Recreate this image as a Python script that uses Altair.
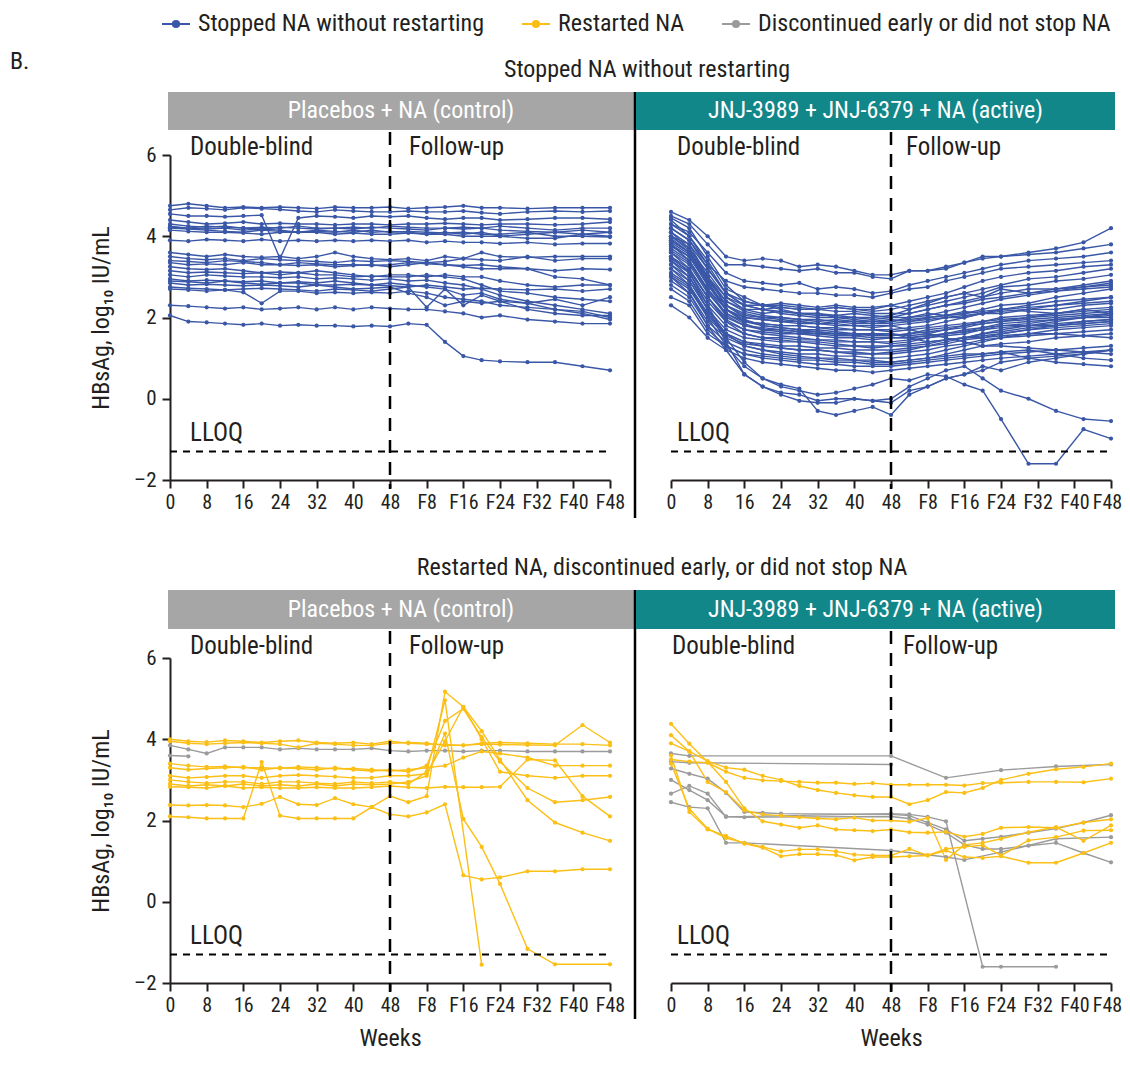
import altair as alt
import pandas as pd

# ---------------- data ----------------
WEEKS = [0, 4, 8, 12, 16, 20, 24, 28, 32, 36, 40, 44, 48,
         52, 56, 60, 64, 68, 72, 78, 84, 90, 96]
X_TICKS = [0, 8, 16, 24, 32, 40, 48, 56, 64, 72, 80, 88, 96]
Y_TICKS = [-2, 0, 2, 4, 6]
LLOQ = -1.3
GROUPS = ["Stopped NA without restarting", "Restarted NA",
          "Discontinued early or did not stop NA"]
COLORS = ["#3a57a7", "#fbbf15", "#9b9b9b"]
ARMS = ["Placebos + NA (control)", "JNJ-3989 + JNJ-6379 + NA (active)"]
ARM_COLORS = ["#a6a6a6", "#12878a"]
SECTIONS = ["Stopped NA without restarting",
            "Restarted NA, discontinued early, or did not stop NA"]

N = None

# control arm, stopped NA without restarting
ctrl_stopped = [
    [4.75, 4.8, 4.75, 4.7, 4.72, 4.7, 4.72, 4.7, 4.68, 4.72, 4.7, 4.7, 4.72, 4.68, 4.7, 4.72, 4.75, 4.7, 4.7, 4.68, 4.7, 4.7, 4.7],
    [4.65, 4.7, 4.68, 4.65, 4.7, 4.68, 4.66, 4.62, 4.6, 4.65, 4.62, 4.6, 4.6, 4.62, 4.6, 4.6, 4.62, 4.58, 4.55, 4.6, 4.62, 4.6, 4.62],
    [4.55, 4.5, 4.5, 4.48, 4.5, 4.52, 3.45, 4.45, 4.5, 4.48, 4.45, 4.5, 4.48, 4.5, 4.45, 4.42, 4.45, 4.45, 4.4, 4.42, 4.45, 4.45, 4.42],
    [4.4, 4.35, 4.3, 4.32, 4.35, 4.3, 4.32, 4.3, 4.3, 4.28, 4.3, 4.3, 4.28, 4.3, 4.3, 4.32, 4.3, 4.28, 4.3, 4.3, 4.28, 4.3, 4.35],
    [4.3, 4.25, 4.22, 4.25, 4.2, 4.22, 4.2, 4.25, 4.2, 4.2, 4.22, 4.2, 4.25, 4.22, 4.2, 4.2, 4.18, 4.2, 4.15, 4.12, 4.1, 4.05, 4.1],
    [4.25, 4.2, 4.18, 4.2, 4.15, 4.18, 4.15, 4.1, 4.15, 4.12, 4.1, 4.15, 4.1, 4.12, 4.1, 4.08, 4.1, 4.05, 4.05, 4.1, 4.0, 4.0, 3.98],
    [4.2, 4.18, 4.15, 4.12, 4.1, 4.15, 4.12, 4.1, 4.12, 4.1, 4.15, 4.1, 4.12, 4.1, 4.05, 4.05, 4.0, 4.0, 4.0, 3.95, 3.95, 4.05, 4.0],
    [4.15, 4.12, 4.1, 4.1, 4.08, 4.05, 4.1, 4.1, 4.1, 4.05, 4.08, 4.05, 4.05, 4.08, 4.05, 4.1, 4.05, 4.1, 4.0, 4.05, 4.1, 4.15, 4.1],
    [4.22, 4.2, 4.25, 4.22, 4.2, 4.18, 4.22, 4.2, 4.18, 4.2, 4.18, 4.22, 4.2, 4.18, 4.15, 4.2, 4.22, 4.2, 4.25, 4.2, 4.15, 4.2, 4.2],
    [3.9, 3.88, 3.92, 3.9, 3.88, 3.92, 3.88, 3.9, 3.88, 3.9, 3.88, 3.9, 3.88, 3.9, 3.85, 3.88, 3.85, 3.85, 3.82, 3.85, 3.8, 3.82, 3.82],
    [3.6, 3.55, 3.5, 3.55, 3.5, 3.48, 3.5, 3.45, 3.5, 3.6, 3.5, 3.45, 3.42, 3.45, 3.4, 3.5, 3.45, 3.6, 3.5, 3.48, 3.5, 3.5, 3.5],
    [3.5, 3.45, 3.42, 3.45, 3.4, 3.45, 3.42, 3.4, 3.38, 3.35, 3.4, 3.38, 3.4, 3.38, 3.35, 3.3, 3.25, 3.2, 3.2, 3.2, 3.15, 3.2, 3.18],
    [3.4, 3.38, 3.35, 3.4, 3.38, 3.35, 3.3, 3.35, 3.32, 3.3, 3.3, 3.28, 3.3, 3.35, 3.32, 3.3, 3.28, 3.3, 3.25, 3.2, 3.0, 2.95, 2.8],
    [3.35, 3.3, 3.32, 3.3, 3.35, 3.3, 3.3, 3.28, 3.3, 3.25, 3.28, 3.3, 3.25, 3.3, 3.35, 3.38, 3.45, 3.42, 3.4, 3.5, 3.4, 3.45, 3.45],
    [3.25, 3.2, 3.18, 3.2, 3.15, 3.1, 3.12, 3.1, 3.15, 3.1, 3.05, 3.0, 3.05, 3.05, 3.0, 3.05, 3.0, 3.0, 2.9, 2.8, 2.75, 2.8, 2.8],
    [3.15, 3.1, 3.12, 3.1, 3.08, 3.1, 3.05, 3.1, 3.05, 3.05, 3.0, 3.02, 3.0, 3.0, 3.05, 3.0, 2.95, 2.8, 2.65, 2.6, 2.5, 2.45, 2.4],
    [3.05, 3.0, 3.05, 3.02, 3.0, 3.0, 2.98, 3.0, 2.95, 2.98, 2.95, 2.92, 2.95, 2.9, 2.92, 2.85, 2.8, 2.7, 2.55, 2.4, 2.3, 2.2, 2.1],
    [2.95, 2.9, 2.92, 2.9, 2.88, 2.9, 2.85, 2.88, 2.85, 2.9, 2.85, 2.8, 2.85, 2.8, 2.75, 2.7, 2.55, 2.6, 2.45, 2.35, 2.2, 2.15, 2.0],
    [2.9, 2.88, 2.85, 2.9, 2.85, 2.82, 2.85, 2.85, 2.8, 2.8, 2.82, 2.8, 2.78, 2.75, 2.8, 2.75, 2.7, 2.72, 2.7, 2.68, 2.7, 2.65, 2.7],
    [2.85, 2.8, 2.82, 2.8, 2.78, 2.8, 2.78, 2.75, 2.8, 2.75, 2.7, 2.72, 2.75, 2.6, 2.5, 2.3, 2.4, 2.35, 2.4, 2.2, 2.1, 2.05, 2.05],
    [2.75, 2.72, 2.7, 2.68, 2.7, 2.72, 2.7, 2.68, 2.65, 2.7, 2.68, 2.65, 2.7, 2.75, 2.25, 2.7, 2.3, 2.55, 2.4, 2.35, 2.45, 2.3, 2.5],
    [2.7, 2.68, 2.65, 2.68, 2.62, 2.35, 2.65, 2.65, 2.6, 2.62, 2.6, 2.62, 2.6, 2.65, 2.6, 2.5, 2.45, 2.4, 2.3, 2.25, 2.2, 2.1, 1.95],
    [2.3, 2.28, 2.25, 2.22, 2.25, 2.2, 2.22, 2.25, 2.2, 2.25, 2.2, 2.25, 2.22, 2.2, 2.2, 2.15, 2.1, 2.0, 2.05, 1.95, 1.9, 1.85, 1.85],
    [2.05, 1.9, 1.88, 1.85, 1.82, 1.85, 1.8, 1.82, 1.8, 1.8, 1.78, 1.8, 1.78, 1.85, 1.82, 1.4, 1.05, 0.95, 0.92, 0.9, 0.9, 0.8, 0.7],
]

# active arm, stopped NA without restarting
act_stopped = [
    [4.6, 4.4, 4.0, 3.5, 3.4, 3.45, 3.4, 3.25, 3.3, 3.25, 3.15, 3.05, 3.05, 3.15, 3.15, 3.2, 3.35, 3.45, 3.5, 3.6, 3.7, 3.85, 4.2],
    [4.5, 4.3, 3.8, 3.3, 3.3, 3.25, 3.2, 3.15, 3.2, 3.1, 3.1, 3.0, 2.95, 3.15, 3.15, 3.25, 3.35, 3.5, 3.5, 3.55, 3.6, 3.7, 3.8],
    [4.3, 4.1, 3.6, 3.1, 2.9, 2.85, 2.8, 2.85, 2.7, 2.75, 2.7, 2.6, 2.65, 2.8, 2.9, 3.0, 3.1, 3.2, 3.3, 3.4, 3.45, 3.5, 3.6],
    [4.2, 3.9, 3.3, 2.9, 2.75, 2.7, 2.65, 2.6, 2.6, 2.55, 2.55, 2.5, 2.6, 2.7, 2.75, 2.9, 3.0, 3.1, 3.2, 3.25, 3.3, 3.35, 3.4],
    [4.0, 3.8, 3.2, 2.6, 2.4, 2.3, 2.3, 2.25, 2.2, 2.25, 2.2, 2.15, 2.2, 2.3, 2.4, 2.5, 2.6, 2.7, 2.8, 2.95, 3.0, 3.1, 3.2],
    [4.1, 3.7, 3.1, 2.5, 2.2, 2.1, 2.15, 2.1, 2.05, 2.05, 2.0, 2.0, 2.05, 2.2, 2.3, 2.4, 2.5, 2.6, 2.75, 2.8, 2.9, 2.95, 3.05],
    [3.9, 3.6, 2.9, 2.4, 2.2, 2.2, 2.25, 2.2, 2.2, 2.25, 2.2, 2.2, 2.3, 2.2, 2.35, 2.5, 2.6, 2.5, 2.7, 2.6, 2.7, 2.8, 2.9],
    [3.8, 3.5, 2.8, 2.3, 2.1, 2.0, 2.0, 1.95, 1.9, 1.95, 1.9, 1.9, 1.9, 1.95, 2.0, 2.05, 2.1, 2.2, 2.3, 2.35, 2.5, 2.6, 2.7],
    [3.7, 3.4, 2.7, 2.2, 2.0, 1.95, 1.9, 1.85, 1.85, 1.8, 1.8, 1.75, 1.8, 1.85, 1.9, 2.0, 2.0, 2.1, 2.15, 2.2, 2.3, 2.4, 2.5],
    [4.2, 3.9, 3.2, 2.6, 2.3, 2.2, 2.1, 2.05, 2.0, 2.0, 1.95, 1.9, 1.95, 1.9, 1.95, 2.0, 2.05, 2.1, 2.1, 2.2, 2.2, 2.3, 2.35],
    [3.6, 3.3, 2.6, 2.1, 1.9, 1.85, 1.8, 1.8, 1.75, 1.7, 1.7, 1.7, 1.65, 1.7, 1.75, 1.8, 1.85, 1.9, 2.0, 2.05, 2.1, 2.15, 2.2],
    [3.5, 3.2, 2.5, 2.0, 1.8, 1.7, 1.7, 1.65, 1.6, 1.6, 1.55, 1.6, 1.55, 1.6, 1.7, 1.75, 1.8, 1.9, 1.95, 2.0, 2.05, 2.1, 2.15],
    [4.4, 4.0, 3.3, 2.6, 2.3, 2.2, 2.15, 2.1, 2.1, 2.05, 2.1, 2.05, 2.0, 2.0, 2.1, 2.05, 2.15, 2.1, 2.2, 2.15, 2.1, 2.2, 2.1],
    [3.4, 3.1, 2.4, 1.9, 1.7, 1.65, 1.6, 1.6, 1.55, 1.5, 1.5, 1.45, 1.5, 1.5, 1.55, 1.6, 1.7, 1.75, 1.85, 1.9, 1.95, 2.0, 2.05],
    [3.3, 3.0, 2.3, 1.8, 1.6, 1.5, 1.5, 1.45, 1.45, 1.4, 1.4, 1.4, 1.35, 1.4, 1.5, 1.55, 1.6, 1.7, 1.8, 1.85, 1.95, 2.0, 2.0],
    [3.95, 3.6, 2.9, 2.2, 1.9, 1.8, 1.75, 1.7, 1.7, 1.65, 1.6, 1.6, 1.6, 1.55, 1.6, 1.7, 1.8, 1.85, 1.9, 2.0, 2.1, 2.2, 2.25],
    [3.2, 2.9, 2.2, 1.7, 1.5, 1.45, 1.4, 1.4, 1.35, 1.3, 1.3, 1.25, 1.3, 1.3, 1.35, 1.45, 1.5, 1.6, 1.65, 1.75, 1.8, 1.85, 1.9],
    [3.1, 2.8, 2.1, 1.6, 1.4, 1.35, 1.3, 1.3, 1.25, 1.25, 1.2, 1.2, 1.2, 1.25, 1.3, 1.35, 1.45, 1.5, 1.6, 1.7, 1.75, 1.8, 1.85],
    [3.0, 2.7, 2.0, 1.55, 1.35, 1.3, 1.25, 1.2, 1.2, 1.15, 1.1, 1.1, 1.15, 1.2, 1.3, 1.4, 1.5, 1.6, 1.7, 1.8, 1.9, 2.0, 2.1],
    [4.0, 3.7, 3.0, 2.3, 2.0, 1.95, 1.9, 1.9, 1.85, 1.9, 1.85, 1.85, 1.85, 1.9, 2.0, 2.05, 2.1, 2.15, 2.2, 2.25, 2.3, 2.35, 2.4],
    [3.8, 3.4, 2.7, 2.1, 1.85, 1.7, 1.65, 1.6, 1.6, 1.55, 1.55, 1.5, 1.5, 1.5, 1.4, 1.45, 1.5, 1.55, 1.6, 1.7, 1.8, 1.9, 1.95],
    [2.9, 2.6, 1.9, 1.5, 1.3, 1.2, 1.15, 1.1, 1.1, 1.05, 1.05, 1.0, 1.0, 1.05, 1.1, 1.2, 1.3, 1.4, 1.5, 1.6, 1.7, 1.75, 1.8],
    [2.8, 2.5, 1.8, 1.4, 1.2, 1.1, 1.05, 1.0, 1.0, 0.95, 0.95, 0.9, 0.9, 0.95, 1.0, 1.1, 1.2, 1.3, 1.35, 1.4, 1.5, 1.55, 1.6],
    [3.6, 3.2, 2.5, 1.9, 1.6, 1.5, 1.45, 1.4, 1.4, 1.35, 1.3, 1.3, 1.3, 1.35, 1.4, 1.45, 1.5, 1.5, 1.55, 1.6, 1.6, 1.55, 1.5],
    [2.5, 2.3, 1.6, 1.3, 1.1, 1.0, 0.95, 0.9, 0.85, 0.85, 0.8, 0.8, 0.8, 0.85, 0.9, 0.95, 1.0, 1.05, 1.1, 1.15, 1.2, 1.25, 1.3],
    [3.3, 2.9, 2.2, 1.6, 1.3, 1.2, 1.1, 1.05, 1.0, 1.0, 0.95, 0.95, 0.9, 0.95, 1.0, 1.05, 1.1, 1.1, 1.15, 1.2, 1.1, 1.0, 0.95],
    [2.3, 2.0, 1.5, 1.2, 1.0, 0.9, 0.85, 0.8, 0.75, 0.7, 0.7, 0.65, 0.7, 0.75, 0.8, 0.85, 0.9, 0.95, 1.0, 1.05, 1.1, 1.15, 1.2],
    [3.4, 3.0, 2.2, 1.4, 0.6, 0.3, 0.15, 0.1, -0.05, 0.0, 0.0, -0.05, -0.1, 0.2, 0.3, 0.5, 0.6, 0.8, 0.7, 0.9, 1.0, 1.1, 1.2],
    [3.5, 3.1, 2.3, 1.5, 0.9, 0.5, 0.3, 0.2, 0.1, 0.15, 0.25, 0.35, 0.5, 0.45, 0.6, 0.55, 0.35, 0.2, -0.5, -1.6, -1.6, -0.75, -0.98],
    [3.2, 2.8, 2.0, 1.3, 0.8, 0.5, 0.35, 0.25, -0.3, -0.4, -0.3, -0.2, -0.4, 0.1, 0.3, 0.5, 0.6, 0.7, 0.9, 1.0, 1.05, 1.1, 1.2],
    [3.0, 2.6, 1.8, 1.2, 0.6, 0.3, 0.1, -0.05, -0.1, -0.1, 0.0, -0.05, 0.0, 0.3, 0.5, 0.7, 0.8, 0.5, 0.2, 0.0, -0.3, -0.5, -0.55],
    [4.3, 4.0, 3.4, 2.7, 2.5, 2.3, 2.2, 2.1, 2.1, 2.0, 2.0, 1.95, 2.0, 2.1, 2.2, 2.3, 2.4, 2.5, 2.6, 2.7, 2.7, 2.75, 2.8],
    [3.75, 3.5, 2.8, 2.2, 1.95, 1.8, 1.75, 1.7, 1.65, 1.6, 1.6, 1.55, 1.55, 1.6, 1.65, 1.7, 1.75, 1.85, 1.9, 1.95, 2.0, 2.05, 2.1],
    [3.85, 3.55, 2.85, 2.2, 1.9, 1.85, 1.8, 1.8, 1.75, 1.75, 1.7, 1.7, 1.7, 1.75, 1.8, 1.9, 2.0, 2.1, 2.2, 2.3, 2.4, 2.45, 2.5],
    [4.1, 3.8, 3.0, 2.4, 2.15, 2.05, 2.0, 1.95, 1.95, 1.9, 1.9, 1.85, 1.9, 2.0, 2.05, 2.15, 2.25, 2.35, 2.45, 2.55, 2.65, 2.75, 2.85],
    [3.45, 3.15, 2.5, 1.95, 1.7, 1.6, 1.55, 1.5, 1.45, 1.45, 1.4, 1.4, 1.4, 1.45, 1.5, 1.6, 1.65, 1.75, 1.8, 1.8, 1.85, 1.9, 1.95],
    [2.7, 2.4, 1.7, 1.3, 1.1, 1.05, 1.0, 0.95, 0.95, 0.9, 0.9, 0.85, 0.85, 0.9, 0.95, 1.0, 1.05, 1.1, 1.15, 1.0, 0.9, 0.85, 0.8],
    [4.45, 4.2, 3.5, 2.8, 2.4, 2.3, 2.25, 2.2, 2.2, 2.15, 2.15, 2.1, 2.1, 2.1, 2.2, 2.3, 2.35, 2.45, 2.5, 2.6, 2.65, 2.7, 2.75],
    [3.65, 3.35, 2.65, 2.05, 1.8, 1.75, 1.7, 1.65, 1.65, 1.6, 1.6, 1.6, 1.6, 1.5, 1.55, 1.6, 1.65, 1.7, 1.75, 1.8, 1.8, 1.85, 1.9],
    [3.05, 2.75, 2.05, 1.6, 1.4, 1.3, 1.25, 1.2, 1.2, 1.15, 1.15, 1.1, 1.1, 1.15, 1.2, 1.3, 1.35, 1.45, 1.5, 1.55, 1.6, 1.65, 1.7],
    [3.9, 3.6, 3.0, 2.5, 2.3, 2.3, 2.35, 2.3, 2.25, 2.3, 2.25, 2.25, 2.3, 2.4, 2.5, 2.6, 2.75, 2.9, 3.0, 3.1, 3.15, 3.25, 3.3],
    [4.0, 3.65, 2.95, 2.3, 2.05, 2.0, 1.95, 1.9, 1.85, 1.85, 1.8, 1.8, 1.8, 1.7, 1.6, 1.5, 1.4, 1.3, 1.3, 1.25, 1.2, 1.15, 1.1],
]

# control arm, restarted NA
ctrl_restarted = [
    [4.0, 3.95, 3.93, 3.97, 3.95, 3.92, 3.95, 3.97, 3.92, 3.9, 3.92, 3.88, 3.95, 3.9, 3.88, 3.87, 3.85, 3.88, 3.87, 3.86, 3.85, 4.35, 3.92],
    [3.95, 3.9, 3.88, 3.9, 3.92, 3.9, 3.88, 3.8, 3.9, 3.88, 3.85, 3.85, 3.9, 3.92, 3.9, 3.85, 3.85, 3.9, 3.92, 3.9, 3.88, 3.88, 3.85],
    [3.4, 3.35, 3.32, 3.33, 3.3, 3.3, 3.28, 3.32, 3.3, 3.27, 3.28, 3.25, 3.22, 3.25, 3.3, 3.35, 3.55, 3.7, 3.65, 3.55, 3.35, 3.35, 3.35],
    [3.3, 3.25, 3.28, 3.3, 3.32, 3.25, 3.3, 3.28, 3.25, 3.3, 3.25, 3.22, 3.25, 3.2, 3.35, 4.45, 4.75, 4.05, 3.45, 2.8, 2.45, 2.5, 2.58],
    [3.1, 3.05, 3.07, 3.1, 3.1, 3.05, 3.1, 3.12, 3.1, 3.08, 3.05, 3.05, 3.1, 3.1, 3.15, 3.95, 4.8, 4.0, 3.2, 3.1, 3.05, 3.1, 3.1],
    [3.0, 2.95, 2.92, 2.95, 2.95, 2.9, 2.95, 2.95, 2.92, 2.9, 2.95, 2.92, 2.95, 2.9, 3.2, 4.96, N, -1.55, N, N, N, N, N],
    [2.9, 2.85, 2.88, 2.85, 2.9, 2.85, 2.88, 2.85, 2.9, 2.85, 2.9, 2.88, 2.9, 2.95, 3.1, 4.14, 2.04, 1.35, 0.44, -1.16, -1.54, N, -1.54],
    [2.83, 2.82, 2.8, 2.85, 2.8, 2.82, 2.8, 2.8, 2.82, 2.8, 2.8, 2.82, 2.85, 2.82, 2.8, 2.83, 2.82, 2.82, 2.83, 3.5, 3.48, 2.6, 2.1],
    [2.38, 2.37, 2.38, 2.37, 2.33, 2.41, 2.58, 2.4, 2.38, 2.55, 2.4, 2.33, 2.6, 2.45, 2.6, 5.17, 4.8, 4.2, 3.5, 2.5, 1.95, 1.7, 1.5],
    [2.1, 2.08, 2.05, 2.05, 2.05, 3.44, 2.12, 2.05, 2.05, 2.05, 2.05, 2.33, 2.15, 2.1, 2.2, 2.4, 0.65, 0.55, 0.6, 0.75, 0.75, 0.8, 0.8],
]

# control arm, discontinued early or did not stop NA
ctrl_other = [
    [3.85, 3.75, 3.65, 3.8, 3.8, 3.8, 3.75, 3.78, 3.75, 3.75, 3.75, 3.78, 3.72, 3.7, 3.72, 3.72, 3.7, 3.72, 3.72, 3.7, 3.7, 3.7, 3.7],
    [3.6, 3.58, N, N, N, N, N, N, N, N, N, N, N, N, N, N, N, N, N, N, N, N, N],
]

# active arm, restarted NA
act_restarted = [
    [3.5, 3.45, 3.42, 3.2, 3.05, 2.99, 2.97, 2.95, 2.93, 2.93, 2.9, 2.92, 2.88, 2.88, 2.88, 2.88, 2.86, 2.92, 2.93, 2.95, 2.95, 2.94, 3.03],
    [3.9, 3.7, 3.46, 3.3, 3.25, 3.1, 3.0, 2.85, 2.75, 2.68, 2.62, 2.58, 2.58, 2.4, 2.5, 2.7, 2.68, 2.8, 3.0, 3.15, 3.26, 3.32, 3.4],
    [4.38, 3.89, 3.44, 2.95, 2.3, 1.98, 1.9, 1.82, 1.88, 1.78, 1.76, 1.74, 1.78, 1.71, 1.7, 1.72, 1.6, 1.67, 1.82, 1.84, 1.82, 1.95, 2.03],
    [4.1, 3.7, 2.95, 2.7, 2.25, 2.15, 2.12, 2.08, 2.05, 2.03, 2.07, 2.0, 2.0, 1.97, 2.06, 1.03, 1.4, 1.45, 1.55, 1.71, 1.84, 1.5, 1.88],
    [3.6, 2.21, 1.78, 1.62, 1.43, 1.33, 1.12, 1.17, 1.17, 1.15, 1.02, 1.1, 1.1, 1.12, 1.14, 1.26, 1.1, 1.08, 1.12, 0.96, 0.96, 1.2, 1.45],
    [3.4, 2.29, 1.8, 1.57, 1.45, 1.35, 1.24, 1.29, 1.29, 1.24, 1.16, 1.14, 1.14, 1.3, 1.14, 1.3, 1.35, 1.39, 1.14, 1.51, 1.59, 1.75, 1.76],
]

# active arm, discontinued early or did not stop NA
act_other = [
    [3.65, 3.59, N, N, N, N, N, N, N, N, N, N, 3.59, N, N, 3.05, N, N, 3.24, N, 3.33, N, 3.38],
    [3.45, 3.42, N, N, N, N, N, N, N, N, N, N, 3.38, N, N, N, N, N, N, N, N, N, N],
    [3.28, 3.15, 3.03, 2.68, 2.21, 2.19, 2.17, N, N, N, N, N, 2.15, 2.12, 1.95, 1.78, 1.5, 1.55, 1.6, 1.7, 1.8, 1.95, 2.13],
    [2.45, 2.33, 2.3, 1.45, 1.45, N, N, N, N, N, N, N, 1.26, N, N, 1.1, 1.03, N, 1.22, N, 1.55, N, 1.59],
    [2.66, 2.85, 2.66, 2.09, N, N, N, N, N, N, N, N, 2.17, 2.15, 2.09, 1.98, N, -1.6, -1.6, N, -1.6, N, N],
    [3.0, 2.75, 2.5, 2.1, 2.08, N, N, N, N, N, N, N, 2.1, 2.05, 1.9, 1.7, 1.4, 1.3, 1.3, 1.38, 1.45, 1.2, 0.97],
]


def frame(sets):
    rows = []
    for group, prefix, lines in sets:
        for i, vals in enumerate(lines):
            for w, v in zip(WEEKS, vals):
                if v is not None:
                    rows.append({"week": w, "value": v, "pid": f"{prefix}{i}",
                                 "group": group})
    return pd.DataFrame(rows)


df_tl = frame([(GROUPS[0], "cs", ctrl_stopped)])
df_tr = frame([(GROUPS[0], "as", act_stopped)])
df_bl = frame([(GROUPS[2], "co", ctrl_other), (GROUPS[1], "cr", ctrl_restarted)])
df_br = frame([(GROUPS[2], "ao", act_other), (GROUPS[1], "ar", act_restarted)])

# ---------------- styling ----------------
FONT = "Liberation Sans Narrow, Roboto Condensed, Arial Narrow, Roboto, sans-serif"
INK = "#231f20"
W, H = 440, 325
ONE = pd.DataFrame({"k": [0]})
XS = alt.Scale(domain=[0, 96], nice=False, zero=False)
YS = alt.Scale(domain=[-2, 6], nice=False, zero=False)
CS = alt.Scale(domain=GROUPS, range=COLORS)
SYM = "M-1.4,0L-0.3,0M0.3,0L1.4,0M-0.3,0A0.3,0.3,0,1,1,0.3,0A0.3,0.3,0,1,1,-0.3,0"
LEG = alt.Legend(title=None, orient="none", legendX=-6, legendY=-143,
                 direction="horizontal", columns=3, symbolType=SYM,
                 symbolSize=400, symbolStrokeWidth=2.2, labelFont=FONT,
                 labelFontSize=24, labelColor=INK, labelOffset=10,
                 columnPadding=32, labelLimit=400, padding=0)


def text(label, x, y, size=24, color=INK, align="left"):
    return alt.Chart(ONE).mark_text(text=label, font=FONT, fontSize=size,
                                    color=color, align=align,
                                    baseline="middle").encode(
        x=alt.value(x), y=alt.value(y))


def panel(df, arm, left, bottom, hdr_x, hdr_y, db_x, fu_x, lloq_x, extra):
    last_shift = 0 if left else -4
    xaxis = alt.Axis(values=X_TICKS, title="Weeks" if bottom else None,
                     labelExpr="datum.value <= 48 ? datum.value : 'F' + (datum.value - 48)",
                     labelFlush=False, labelOverlap=False, labelPadding=4,
                     labelOffset={"condition": {"test": "datum.value == 96",
                                                "value": last_shift},
                                  "value": 0},
                     titlePadding=11, titleFontSize=24)
    if left:
        yaxis = alt.Axis(values=Y_TICKS, title="HBsAg, log\u2081\u2080 IU/mL",
                         labelExpr="datum.value < 0 ? '\u2013' + (-datum.value) : datum.value",
                         labelPadding=6, titlePadding=20, titleFontSize=24,
                         labelFontSize=21)
    else:
        yaxis = alt.Axis(values=Y_TICKS, title=None, labels=False, ticks=False,
                         domain=False)
    hdr = alt.Chart(ONE).mark_rect(color=ARM_COLORS[arm]).encode(
        x=alt.value(hdr_x[0]), x2=alt.value(hdr_x[1]),
        y=alt.value(hdr_y[0]), y2=alt.value(hdr_y[1]))
    hdr_txt = text(ARMS[arm], (hdr_x[0] + hdr_x[1]) / 2,
                   (hdr_y[0] + hdr_y[1]) / 2, color="white", align="center")
    lines = alt.Chart(df).mark_line(
        strokeWidth=1.4,
        point=alt.OverlayMarkDef(filled=True, size=18, opacity=1)).encode(
        x=alt.X("week:Q", scale=XS, axis=xaxis),
        y=alt.Y("value:Q", scale=YS, axis=yaxis),
        color=alt.Color("group:N", scale=CS, legend=LEG),
        detail="pid:N")
    wk48 = alt.Chart(ONE).mark_rule(color="black", strokeWidth=2.5,
                                    strokeDash=[13, 9]).encode(
        x=alt.XDatum(48, axis=xaxis, scale=XS),
        y=alt.value(hdr_y[1] + 2), y2=alt.value(H + 9))
    lloq = alt.Chart(ONE).mark_rule(color="black", strokeWidth=2,
                                    strokeDash=[7, 6]).encode(
        x=alt.XDatum(0, axis=xaxis, scale=XS), x2=alt.datum(96),
        y=alt.YDatum(LLOQ, axis=yaxis, scale=YS))
    labels = [text("Double-blind", db_x, hdr_y[1] + 17, size=25),
              text("Follow-up", fu_x, hdr_y[1] + 17, size=25),
              text("LLOQ", lloq_x, 278, size=25)]
    return alt.layer(hdr, hdr_txt, lines, wk48, lloq, *labels, *extra).properties(
        width=W, height=H)


divider_top = alt.Chart(ONE).mark_rule(color="black", strokeWidth=2.5).encode(
    x=alt.value(465), y=alt.value(-63), y2=alt.value(H + 38))
divider_bot = alt.Chart(ONE).mark_rule(color="black", strokeWidth=2.5).encode(
    x=alt.value(465), y=alt.value(-68), y2=alt.value(H + 36))

tl = panel(df_tl, 0, True, False, (-2, 464), (-63, -25), 20, 239, 20,
           [divider_top, text("B.", -160, -93),
            text(SECTIONS[0], 477, -85, align="center")])
tr = panel(df_tr, 1, False, False, (-35, 444), (-63, -25), 6, 235, 6, [])
bl = panel(df_bl, 0, True, True, (-2, 464), (-68, -29), 20, 239, 20,
           [divider_bot, text(SECTIONS[1], 492, -90, align="center")])
br = panel(df_br, 1, False, True, (-35, 444), (-68, -29), 1, 232, 6, [])

chart = alt.concat(tl, tr, bl, br, columns=2,
                   spacing={"row": 178, "column": 61},
                   bounds="flush").resolve_scale(color="shared").properties(
    padding={"left": 2, "top": 4, "right": 0, "bottom": 0}).configure_view(
    stroke=None).configure_axis(
    domainColor=INK, domainWidth=2, tickColor=INK, tickWidth=2, tickSize=8,
    labelFont=FONT, labelFontSize=20, labelColor=INK, titleFont=FONT,
    titleColor=INK, titleFontWeight="normal", grid=False)

chart.save("out.html", embed_options={"renderer": "svg", "actions": False})
